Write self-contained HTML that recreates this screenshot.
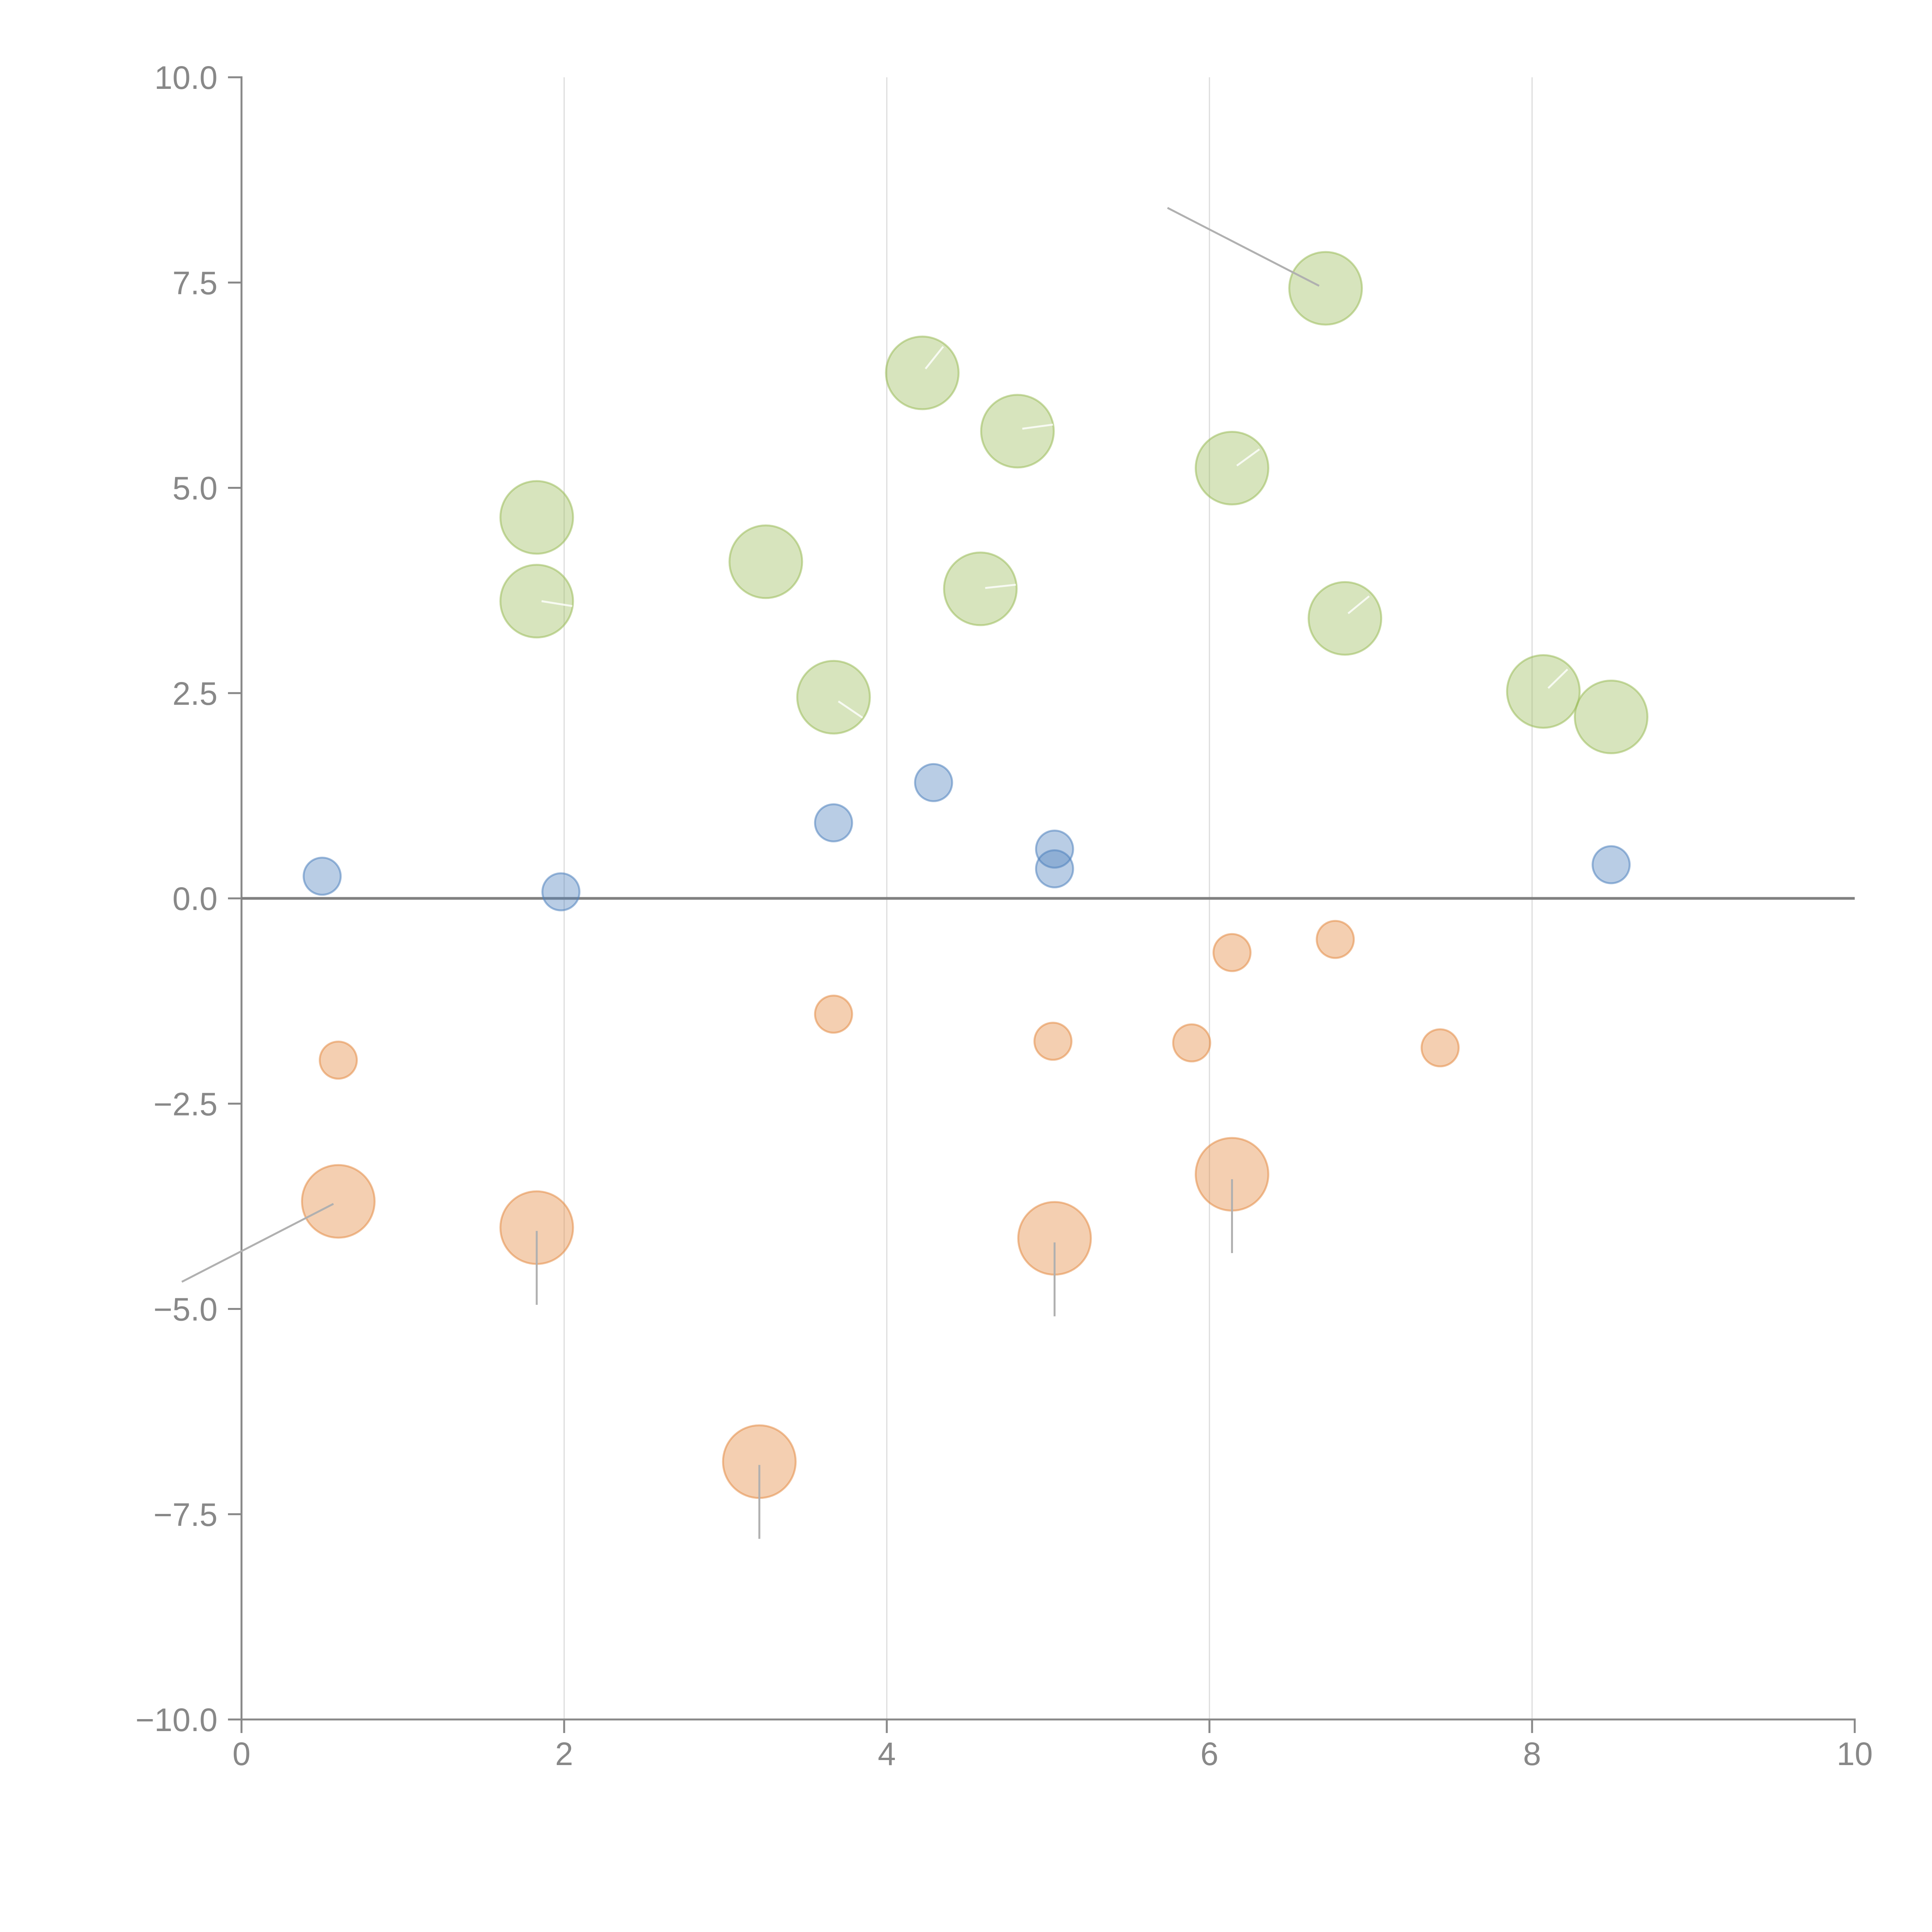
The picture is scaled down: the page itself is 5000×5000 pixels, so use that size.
<!DOCTYPE html>
<html><head><meta charset="utf-8"><style>
html,body{margin:0;padding:0;background:#fff;}
svg{display:block;}
text{font-family:"Liberation Sans",sans-serif;fill:#888;font-size:84px;}
</style></head>
<body>
<svg id="chart" width="5000" height="5000" viewBox="0 0 5000 5000" xmlns="http://www.w3.org/2000/svg">
<g id="grid"></g>
<g id="axes"></g>
<g id="marks"></g>
<g id="ann"></g>
</svg>
<script>
const xTicks = [0, 2, 4, 6, 8, 10];
const yTicks = [-10, -7.5, -5, -2.5, 0, 2.5, 5, 7.5, 10];
const yTickLabels = ["−10.0", "−7.5", "−5.0", "−2.5", "0.0", "2.5", "5.0", "7.5", "10.0"];
const greenX = [1.83, 1.83, 3.25, 3.67, 4.22, 4.81, 4.58, 6.14, 6.72, 6.84, 8.07, 8.49];
const greenY = [4.64, 3.62, 4.10, 2.45, 6.40, 5.69, 3.77, 5.24, 7.43, 3.41, 2.52, 2.21];
const blueX = [0.50, 1.98, 3.67, 4.29, 5.04, 5.04, 8.49];
const blueY = [0.27, 0.08, 0.92, 1.41, 0.60, 0.36, 0.41];
const orangeSmallX = [0.60, 3.67, 5.03, 5.89, 6.14, 6.78, 7.43];
const orangeSmallY = [-1.97, -1.41, -1.74, -1.76, -0.66, -0.50, -1.82];
const orangeBigX = [0.60, 1.83, 3.21, 5.04, 6.14];
const orangeBigY = [-3.69, -4.01, -6.86, -4.14, -3.36];
const leaderX1 = [5.74, -0.37, 1.83, 3.21, 5.04, 6.14];
const leaderY1 = [8.41, -4.67, -4.05, -6.90, -4.19, -3.42];
const leaderX2 = [6.68, 0.57, 1.83, 3.21, 5.04, 6.14];
const leaderY2 = [7.46, -3.72, -4.95, -7.80, -5.09, -4.32];
const whiteX1 = [1.86, 3.70, 4.24, 4.84, 4.61, 6.17, 6.86, 8.10];
const whiteY1 = [3.62, 2.40, 6.45, 5.72, 3.78, 5.27, 3.47, 2.56];
const whiteX2 = [2.05, 3.85, 4.35, 5.03, 4.80, 6.31, 6.99, 8.22];
const whiteY2 = [3.56, 2.20, 6.72, 5.77, 3.82, 5.47, 3.68, 2.79];

const NS = "http://www.w3.org/2000/svg";
const L = 625, R = 4800, T = 200, B = 4450;
const X = v => L + (v - 0) / 10 * (R - L);
const Y = v => T + (10 - v) / 20 * (B - T);
function mk(tag, attrs, parent) {
  const e = document.createElementNS(NS, tag);
  for (const k in attrs) e.setAttribute(k, attrs[k]);
  parent.appendChild(e);
  return e;
}
const grid = document.getElementById('grid');
const axes = document.getElementById('axes');
const marks = document.getElementById('marks');
const ann = document.getElementById('ann');

xTicks.forEach(t => {
  if (t > 0 && t < 10) {
    const g = mk('line', {x1: X(t), x2: X(t), y1: T, y2: B, stroke: '#dcdcdc', 'stroke-width': 3}, grid);
    
    
  }
  const tk = mk('line', {x1: X(t), x2: X(t), y1: B, y2: B + 35, stroke: '#888', 'stroke-width': 5}, axes);
  
  
  const lb = mk('text', {x: X(t), y: B + 118, 'text-anchor': 'middle'}, axes);
  lb.textContent = String(t);
  
  
});
yTicks.forEach((t, i) => {
  const tk = mk('line', {x1: L - 35, x2: L, y1: Y(t), y2: Y(t), stroke: '#888', 'stroke-width': 5}, axes);
  
  
  const lb = mk('text', {x: L - 62, y: Y(t) + 30, 'text-anchor': 'end'}, axes);
  lb.textContent = yTickLabels[i];
  
  
});
const ya = mk('line', {x1: L, x2: L, y1: T - 2.5, y2: B + 2.5, stroke: '#888', 'stroke-width': 5}, axes);


const xa = mk('line', {x1: L, x2: R + 2.5, y1: B, y2: B, stroke: '#888', 'stroke-width': 5}, axes);


const zl = mk('line', {x1: L, x2: R, y1: Y(0), y2: Y(0), stroke: '#808080', 'stroke-width': 7}, axes);



function series(xs, ys, r, fill, stroke, name) {
  xs.forEach((x, i) => {
    const c = mk('circle', {cx: X(x), cy: Y(ys[i]), r: r, fill: fill, stroke: stroke, 'stroke-width': 5}, marks);
    
    
  });
}
series(greenX, greenY, 94, 'rgba(155,187,89,0.4)', 'rgba(155,187,89,0.55)', 'green-bubble');
series(blueX, blueY, 48, 'rgba(79,129,189,0.4)', 'rgba(79,129,189,0.55)', 'blue-bubble');
series(orangeSmallX, orangeSmallY, 48, 'rgba(228,140,70,0.42)', 'rgba(228,140,70,0.55)', 'orange-small-bubble');
series(orangeBigX, orangeBigY, 94, 'rgba(228,140,70,0.42)', 'rgba(228,140,70,0.55)', 'orange-big-bubble');

leaderX1.forEach((x, i) => {
  const l = mk('line', {x1: X(x), y1: Y(leaderY1[i]), x2: X(leaderX2[i]), y2: Y(leaderY2[i]), stroke: '#b0b0b0', 'stroke-width': 5}, ann);
  
  
});
whiteX1.forEach((x, i) => {
  const l = mk('line', {x1: X(x), y1: Y(whiteY1[i]), x2: X(whiteX2[i]), y2: Y(whiteY2[i]), stroke: 'rgba(255,255,255,0.8)', 'stroke-width': 5}, ann);
  
  
});
</script>
</body></html>
